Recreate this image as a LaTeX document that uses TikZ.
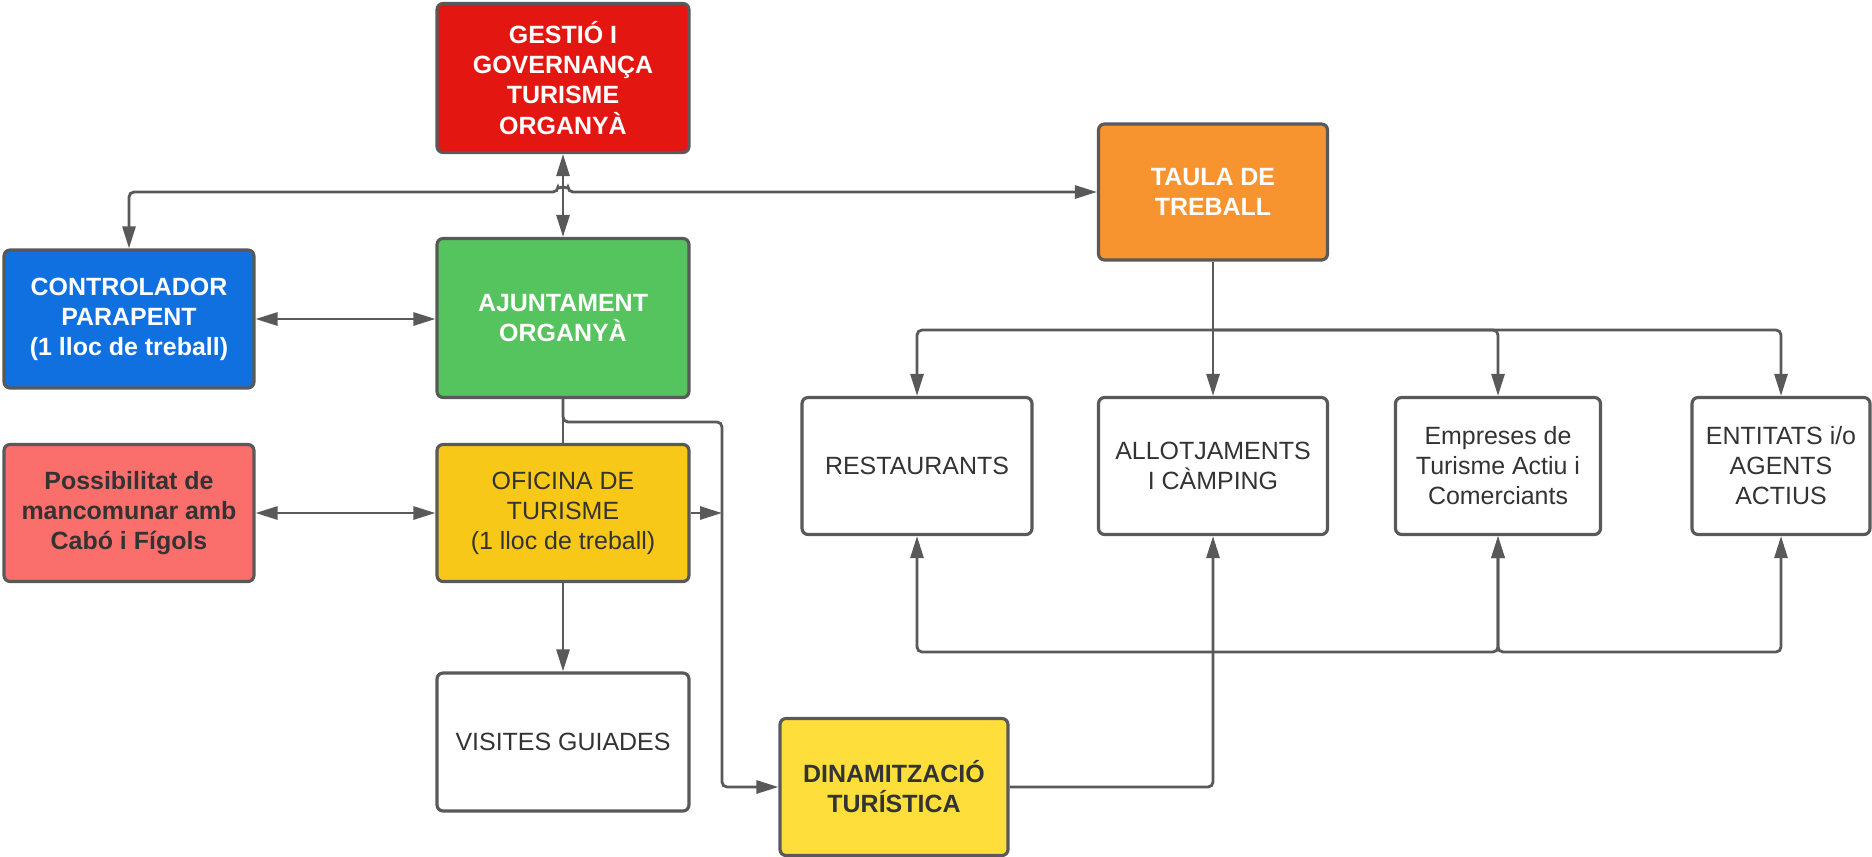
\documentclass[tikz,border=0pt]{standalone}
\usepackage{fontspec}
\setmainfont{Liberation Sans}
\usetikzlibrary{arrows.meta}
\definecolor{linegray}{HTML}{595959}
\definecolor{txtgray}{HTML}{333333}
\definecolor{govred}{HTML}{E31611}
\definecolor{ctrlblue}{HTML}{1070E0}
\definecolor{ajuntgreen}{HTML}{55C35E}
\definecolor{mancsalmon}{HTML}{FA6E6C}
\definecolor{oficyellow}{HTML}{F8C818}
\definecolor{dinamyellow}{HTML}{FEDE3B}
\definecolor{taulaorange}{HTML}{F8942F}

\begin{document}
\begin{tikzpicture}[x=0.02cm, y=-0.02cm, >={Triangle[length=0.44cm,width=0.26cm]},
	every node/.style={font=\fontsize{14.2}{17.1}\selectfont, align=center, text=txtgray},
	box/.style={draw=linegray, line width=1.8pt, rounded corners=0.12cm, inner sep=0pt, fill=white, minimum height=2.74cm},
	hot/.style={box, text=white, font=\fontsize{14.2}{17.1}\selectfont\bfseries},
	link/.style={draw=linegray, line width=1.6pt, rounded corners=0.1cm}]
	\useasboundingbox (0,0) rectangle (1872,856);
	\node[hot, fill=govred, minimum width=5.04cm, minimum height=2.98cm] (gestio) at (563,78) {GESTIÓ I\\GOVERNANÇA\\TURISME\\ORGANYÀ};
	\node[hot, fill=ajuntgreen, minimum width=5.04cm, minimum height=3.18cm] (ajunt) at (563,318) {AJUNTAMENT\\ORGANYÀ};
	\node[hot, fill=ctrlblue, minimum width=5cm, minimum height=2.76cm] (ctrl) at (129,319) {CONTROLADOR\\PARAPENT\\(1 lloc de treball)};
	\node[hot, fill=taulaorange, minimum width=4.58cm, minimum height=2.72cm] (taula) at (1213,192) {TAULA DE\\TREBALL};
	\node[box, fill=mancsalmon, font=\fontsize{14.2}{17.1}\selectfont\bfseries, minimum width=5cm] (manc) at (129,513) {Possibilitat de\\mancomunar amb\\Cabó i Fígols};
	\node[box, fill=oficyellow, minimum width=5.04cm] (ofic) at (563,513) {OFICINA DE\\TURISME\\(1 lloc de treball)};
	\node[box, minimum width=5.04cm, minimum height=2.76cm] (visit) at (563,742) {VISITES GUIADES};
	\node[box, fill=dinamyellow, font=\fontsize{14.2}{17.1}\selectfont\bfseries, minimum width=4.56cm] (dinam) at (894,787) {DINAMITZACIÓ\\TURÍSTICA};
	\node[box, minimum width=4.6cm] (resta) at (917,466) {RESTAURANTS};
	\node[box, minimum width=4.58cm] (allot) at (1213,466) {ALLOTJAMENTS\\I CÀMPING};
	\node[box, minimum width=4.1cm] (empre) at (1498,466) {Empreses de\\Turisme Actiu i\\Comerciants};
	\node[box, minimum width=3.56cm] (entit) at (1781,466) {ENTITATS i/o\\AGENTS\\ACTIUS};
	\coordinate (drop) at (722,422);
	\coordinate (fork) at (1213,330);
	\coordinate (bus) at (1498,652);
	\draw[link, <->] (gestio.south) -- (ajunt.north);
	\draw[link, <->] (ctrl.north) |- ([xshift=-0.1cm]gestio.south |- taula.west) arc[start angle=180, end angle=0, radius=0.1cm] -- (taula.west);
	\draw[link, <->] (ctrl.east) -- (ctrl.east -| ajunt.west);
	\draw[link, <->] (manc.east) -- (ofic.west);
	\draw[link] (ajunt.south) -- (ofic.north);
	\draw[link, ->] (ajunt.south) |- (drop) |- (dinam.west);
	\draw[link, ->] (ofic.east) -- (ofic.east -| drop);
	\draw[link, ->] (ofic.south) -- (visit.north);
	\draw[link, ->] (dinam.east) -| (allot.south);
	\draw[link] (taula.south) -- (fork);
	\foreach \b in {resta,allot,empre,entit} {\draw[link, ->] (fork) -| (\b.north);}
	\foreach \b in {resta,entit} {\draw[link, <->] (\b.south) |- (bus) -- (empre.south);}
\end{tikzpicture}
\end{document}
